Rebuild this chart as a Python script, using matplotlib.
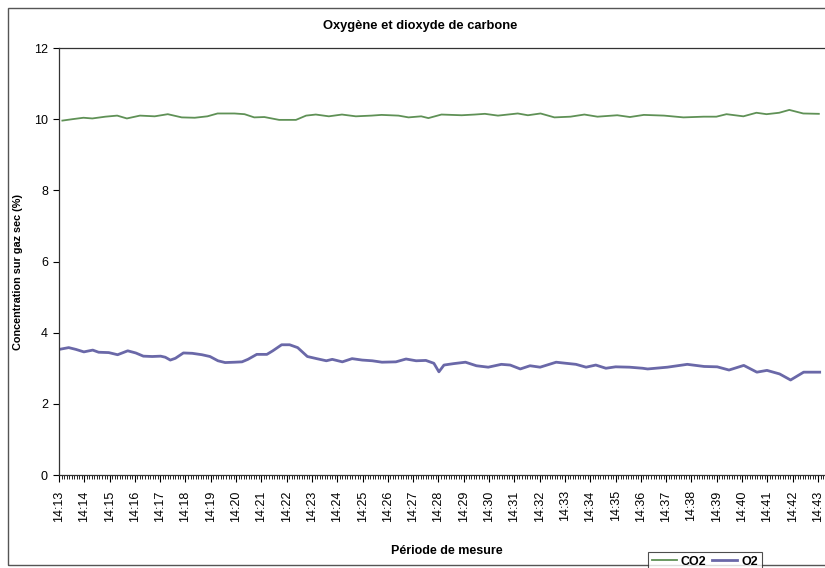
import matplotlib
matplotlib.use("Agg")
import matplotlib.pyplot as plt
import matplotlib.dates as mdates
from matplotlib.patches import Rectangle
import pandas as pd

plt.rcParams["font.family"] = ["Liberation Sans", "DejaVu Sans"]

# Oxygen trace (time, % on dry gas)
o2_times = ["14:13:05", "14:13:23", "14:13:40", "14:13:59", "14:14:20", "14:14:34", "14:14:58",
            "14:15:19", "14:15:43", "14:16:02", "14:16:20", "14:16:41", "14:17:01", "14:17:12",
            "14:17:24", "14:17:36", "14:17:55", "14:18:16", "14:18:39", "14:18:58", "14:19:17",
            "14:19:34", "14:19:57", "14:20:14", "14:20:28", "14:20:49", "14:21:13", "14:21:27",
            "14:21:48", "14:22:07", "14:22:26", "14:22:49", "14:23:11", "14:23:34", "14:23:48",
            "14:24:12", "14:24:35", "14:24:59", "14:25:23", "14:25:46", "14:26:19", "14:26:43",
            "14:27:07", "14:27:30", "14:27:49", "14:28:01", "14:28:13", "14:28:36", "14:29:04",
            "14:29:30", "14:29:58", "14:30:29", "14:30:50", "14:31:14", "14:31:37", "14:32:01",
            "14:32:39", "14:33:02", "14:33:26", "14:33:50", "14:34:13", "14:34:37", "14:35:00",
            "14:35:33", "14:36:04", "14:36:16", "14:37:03", "14:37:50", "14:38:30", "14:39:01",
            "14:39:29", "14:40:04", "14:40:35", "14:40:59", "14:41:29", "14:41:55", "14:42:26",
            "14:43:04"]
o2_values = [3.54, 3.58, 3.53, 3.46, 3.51, 3.45, 3.44,
             3.38, 3.49, 3.43, 3.34, 3.33, 3.34, 3.31,
             3.23, 3.28, 3.43, 3.42, 3.38, 3.33, 3.21,
             3.16, 3.17, 3.18, 3.25, 3.39, 3.39, 3.49,
             3.66, 3.66, 3.58, 3.33, 3.27, 3.21, 3.25,
             3.18, 3.27, 3.23, 3.21, 3.17, 3.18, 3.26,
             3.21, 3.22, 3.14, 2.90, 3.09, 3.13, 3.17,
             3.07, 3.03, 3.11, 3.09, 2.98, 3.07, 3.03,
             3.17, 3.14, 3.11, 3.03, 3.09, 3.00, 3.04,
             3.03, 3.00, 2.98, 3.03, 3.11, 3.05, 3.04,
             2.95, 3.08, 2.89, 2.94, 2.84, 2.67, 2.89,
             2.89]

# Carbon dioxide trace
co2_times = ["14:13:08", "14:13:32", "14:13:58", "14:14:19", "14:14:50", "14:15:18", "14:15:41",
             "14:16:12", "14:16:47", "14:17:18", "14:17:51", "14:18:22", "14:18:52", "14:19:16",
             "14:19:56", "14:20:20", "14:20:43", "14:21:07", "14:21:42", "14:22:22", "14:22:46",
             "14:23:09", "14:23:40", "14:24:11", "14:24:44", "14:25:21", "14:25:45", "14:26:25",
             "14:26:49", "14:27:19", "14:27:36", "14:28:07", "14:28:55", "14:29:26", "14:29:50",
             "14:30:21", "14:31:08", "14:31:32", "14:32:02", "14:32:35", "14:33:13", "14:33:46",
             "14:34:17", "14:35:04", "14:35:34", "14:36:07", "14:36:55", "14:37:41", "14:38:29",
             "14:38:59", "14:39:23", "14:40:03", "14:40:34", "14:40:58", "14:41:28", "14:41:52",
             "14:42:25", "14:43:02"]
co2_values = [9.96, 10.00, 10.04, 10.02, 10.07, 10.10, 10.02,
              10.10, 10.08, 10.14, 10.05, 10.04, 10.08, 10.16,
              10.16, 10.14, 10.05, 10.06, 9.98, 9.98, 10.10,
              10.13, 10.08, 10.13, 10.08, 10.10, 10.12, 10.10,
              10.05, 10.08, 10.03, 10.13, 10.11, 10.13, 10.15,
              10.10, 10.16, 10.11, 10.16, 10.05, 10.07, 10.13,
              10.07, 10.11, 10.06, 10.12, 10.10, 10.05, 10.07,
              10.07, 10.14, 10.08, 10.18, 10.14, 10.18, 10.26,
              10.16, 10.15]

y_ticks = [0, 2, 4, 6, 8, 10, 12]

DAY = "2000-01-01 "
o2_t = pd.to_datetime([DAY + t for t in o2_times])
co2_t = pd.to_datetime([DAY + t for t in co2_times])

W, H = 825, 568
fig = plt.figure(figsize=(W / 100, H / 100), dpi=100)

# outer chart frame
fig.patches.append(Rectangle((8 / W, 1 - 565 / H), (835 - 8) / W, (565 - 8) / H,
                             transform=fig.transFigure, fill=False, ec="#555555", lw=1.0))

ax = fig.add_axes([59 / W, 1 - 475 / H, (826 - 59) / W, (475 - 48) / H])

ax.plot(co2_t, co2_values, color="#5f9156", lw=1.3, label="CO2")
ax.plot(o2_t, o2_values, color="#6a68a8", lw=2.0, label="O2")

ax.set_ylim(0, 12)
ax.set_yticks(y_ticks)
ax.set_xlim(pd.Timestamp(DAY + "14:13:00"), pd.Timestamp(DAY + "14:43:19"))
ax.xaxis.set_major_locator(mdates.MinuteLocator())
ax.xaxis.set_major_formatter(mdates.DateFormatter("%H:%M"))
ax.xaxis.set_minor_locator(mdates.SecondLocator(bysecond=range(0, 60, 6)))

ax.tick_params(axis="x", which="major", labelrotation=90, labelsize=9, length=5,
               width=0.8, pad=6)
ax.tick_params(axis="x", which="minor", length=3, width=0.6)
ax.tick_params(axis="y", labelsize=9, length=4, width=0.8, pad=4)

for side in ("left", "bottom", "top"):
    ax.spines[side].set_color("#333333")
    ax.spines[side].set_linewidth(0.9)
ax.spines["right"].set_visible(False)

fig.text(420 / W, 1 - 26 / H, "Oxygène et dioxyde de carbone", ha="center", va="center",
         fontsize=9.3, fontweight="bold")
fig.text(18 / W, 1 - 272 / H, "Concentration sur gaz sec (%)", ha="center", va="center",
         rotation=90, fontsize=7.8, fontweight="bold")
fig.text(447 / W, 1 - 551 / H, "Période de mesure", ha="center", va="center",
         fontsize=9, fontweight="bold")

h, l = ax.get_legend_handles_labels()
leg = fig.legend(h, l, loc="upper left", bbox_to_anchor=(648 / W, 1 - 552 / H), ncol=2,
                 fontsize=9, frameon=True, fancybox=False, handlelength=2.0,
                 handletextpad=0.3, columnspacing=0.5, borderpad=0.3, borderaxespad=0)
leg.get_frame().set_edgecolor("#222222")
leg.get_frame().set_linewidth(0.8)
for t in leg.get_texts():
    t.set_fontweight("bold")

fig.savefig("out.png", dpi=100)
